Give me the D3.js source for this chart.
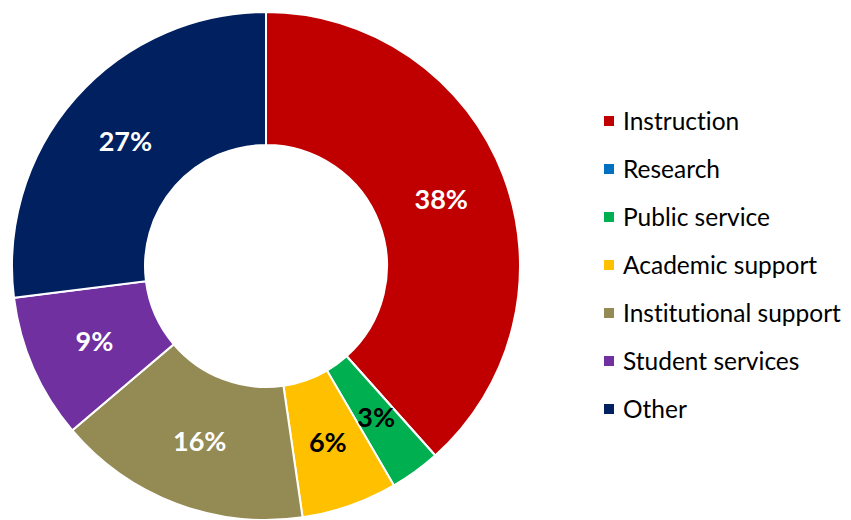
<!DOCTYPE html>
<html>
<head>
<meta charset="utf-8">
<script src="https://cdn.jsdelivr.net/npm/d3@7"></script>
<style>
  body { margin: 0; background: #fff; }
  svg { display: block; font-family: Lato, "Open Sans", sans-serif; font-variant-ligatures: none; }
</style>
</head>
<body>
<div id="chart"></div>
<script>
// chart values (percent of total)
var categories = ["Instruction", "Research", "Public service", "Academic support",
                  "Institutional support", "Student services", "Other"];
var values = [38.4, 0, 3.2, 6.1, 16.1, 9.2, 27.0];
var colors = ["#C00000", "#0070C0", "#00B050", "#FFC000", "#948A54", "#7030A0", "#002060"];
var labelColors = ["#fff", "#fff", "#000", "#000", "#fff", "#fff", "#fff"];

var width = 851, height = 520;
var cx = 266, cy = 266, outerR = 254, innerR = 121;

var svg = d3.select("#chart").append("svg")
    .attr("width", width)
    .attr("height", height);

var data = categories.map(function(c, i) {
    return { name: c, value: values[i], color: colors[i], label: labelColors[i] };
});
var total = d3.sum(values);

var pie = d3.pie()
    .sort(null)
    .value(function(d) { return d.value; });

var arc = d3.arc()
    .innerRadius(innerR)
    .outerRadius(outerR);

var g = svg.append("g")
    .attr("transform", "translate(" + cx + "," + cy + ")");

var arcs = pie(data);

g.selectAll("path")
    .data(arcs)
    .enter().append("path")
    .attr("d", arc)
    .style("fill", function(d) { return d.data.color; })
    .style("stroke", "#fff")
    .style("stroke-width", 2);

// percentage labels, skip empty slices
g.selectAll("text.pct")
    .data(arcs.filter(function(d) { return d.data.value > 0; }))
    .enter().append("text")
    .attr("class", "pct")
    .attr("transform", function(d) { return "translate(" + arc.centroid(d) + ")"; })
    .attr("text-anchor", "middle")
    .attr("dy", "0.35em")
    .style("font-size", "27px")
    .style("font-weight", "bold")
    .style("fill", function(d) { return d.data.label; })
    .text(function(d) { return Math.round(d.data.value / total * 100) + "%"; });

// legend
var legendY = d3.scalePoint()
    .domain(categories)
    .range([121, 409]);

var legend = svg.selectAll(".legend")
    .data(data)
    .enter().append("g")
    .attr("class", "legend")
    .attr("transform", function(d) { return "translate(604," + legendY(d.name) + ")"; });

legend.append("rect")
    .attr("x", 0)
    .attr("y", -5)
    .attr("width", 10)
    .attr("height", 10)
    .style("fill", function(d) { return d.color; });

legend.append("text")
    .attr("x", 19)
    .attr("dy", "0.35em")
    .style("font-size", "24.5px")
    .style("fill", "#000")
    .text(function(d) { return d.name; });
</script>
</body>
</html>
